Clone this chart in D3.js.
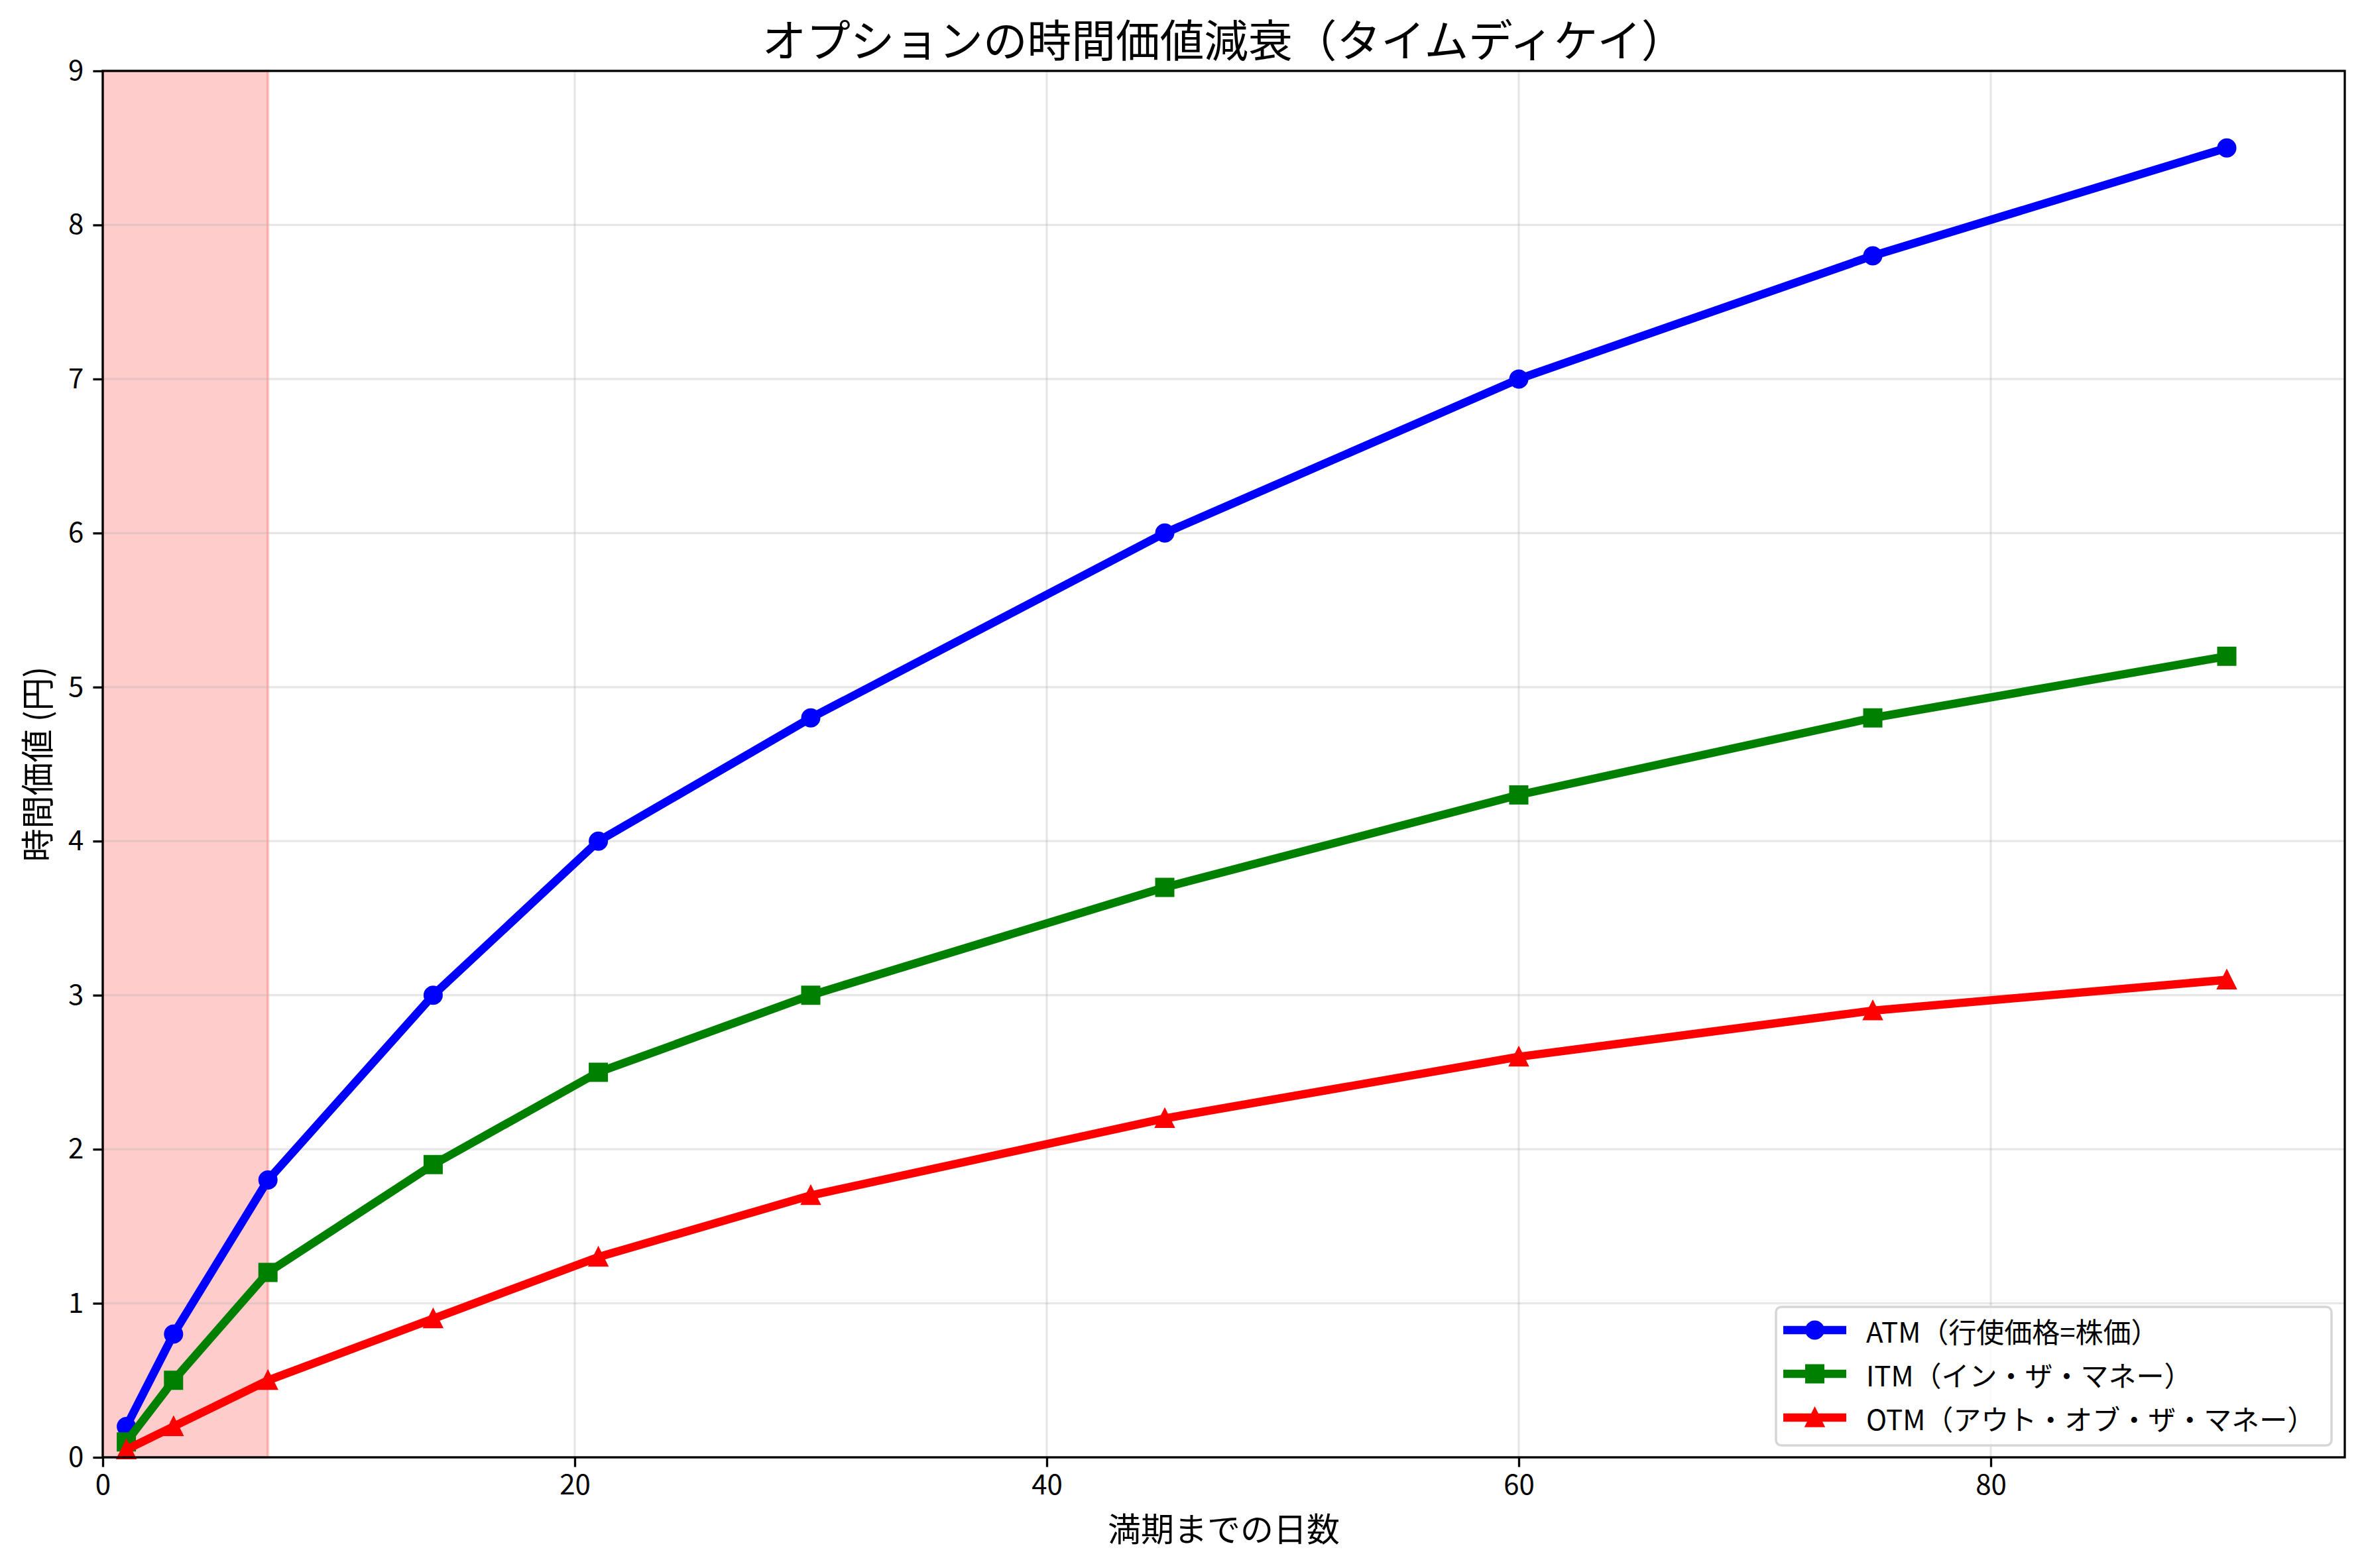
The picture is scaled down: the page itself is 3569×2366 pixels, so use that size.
<!DOCTYPE html>
<html>
<head>
<meta charset="utf-8">
<script src="https://cdn.jsdelivr.net/npm/d3@7"></script>
<style>
  body { margin: 0; background: #fff; }
  svg { display: block; font-family: "Noto Sans CJK JP", "Noto Sans", sans-serif; }
</style>
</head>
<body>
<svg id="chart"></svg>
<script>
// days to expiry
const days = [1, 3, 7, 14, 21, 30, 45, 60, 75, 90];
const atmValues = [0.2, 0.8, 1.8, 3.0, 4.0, 4.8, 6.0, 7.0, 7.8, 8.5];
const itmValues = [0.1, 0.5, 1.2, 1.9, 2.5, 3.0, 3.7, 4.3, 4.8, 5.2];
const otmValues = [0.05, 0.2, 0.5, 0.9, 1.3, 1.7, 2.2, 2.6, 2.9, 3.1];
const seriesNames = ["ATM（行使価格=株価）", "ITM（イン・ザ・マネー）", "OTM（アウト・オブ・ザ・マネー）"];
const xTicks = [0, 20, 40, 60, 80];
const yTicks = [0, 1, 2, 3, 4, 5, 6, 7, 8, 9];
const shadeRange = [0, 7];

const width = 3569;
const height = 2366;
const margin = { top: 107, right: 32, bottom: 167, left: 155 };
const innerW = width - margin.left - margin.right;
const innerH = height - margin.top - margin.bottom;

// marker paths, half size 12.5px (matplotlib markersize 6 at 300dpi)
const r = 12.5;
const markerPaths = {
  circle: d3.symbol().type(d3.symbolCircle).size(Math.PI * r * r)(),
  square: `M${-r},${-r}H${r}V${r}H${-r}Z`,
  triangle: `M0,${-r}L${r},${r}L${-r},${r}Z`
};

const series = [
  { name: seriesNames[0], values: atmValues, color: "#0000ff", marker: "circle" },
  { name: seriesNames[1], values: itmValues, color: "#008000", marker: "square" },
  { name: seriesNames[2], values: otmValues, color: "#ff0000", marker: "triangle" }
];

const svg = d3.select("#chart")
  .attr("width", width)
  .attr("height", height);

const g = svg.append("g")
  .attr("transform", `translate(${margin.left},${margin.top})`);

const xScale = d3.scaleLinear().domain([0, 95]).range([0, innerW]);
const yScale = d3.scaleLinear().domain([0, 9]).range([innerH, 0]);

// shaded last week
g.append("rect")
  .attr("x", xScale(shadeRange[0]))
  .attr("y", 0)
  .attr("width", xScale(shadeRange[1]) - xScale(shadeRange[0]))
  .attr("height", innerH)
  .attr("fill", "rgba(255,0,0,0.2)")
  .attr("stroke", "rgba(255,0,0,0.2)")
  .attr("stroke-width", 4);

// grid
g.append("g")
  .selectAll("line")
  .data(xTicks)
  .enter().append("line")
  .attr("x1", d => xScale(d)).attr("x2", d => xScale(d))
  .attr("y1", 0).attr("y2", innerH)
  .attr("stroke", "#b0b0b0").attr("stroke-opacity", 0.3).attr("stroke-width", 3.3);

g.append("g")
  .selectAll("line")
  .data(yTicks)
  .enter().append("line")
  .attr("x1", 0).attr("x2", innerW)
  .attr("y1", d => yScale(d)).attr("y2", d => yScale(d))
  .attr("stroke", "#b0b0b0").attr("stroke-opacity", 0.3).attr("stroke-width", 3.3);

// lines + markers
const line = d3.line()
  .x((d, i) => xScale(days[i]))
  .y(d => yScale(d));

series.forEach(s => {
  g.append("path")
    .datum(s.values)
    .attr("fill", "none")
    .attr("stroke", s.color)
    .attr("stroke-width", 12.5)
    .attr("stroke-linejoin", "round")
    .attr("stroke-linecap", "butt")
    .attr("d", line);

  g.append("g")
    .selectAll("path")
    .data(s.values)
    .enter().append("path")
    .attr("transform", (d, i) => `translate(${xScale(days[i])},${yScale(d)})`)
    .attr("d", markerPaths[s.marker])
    .attr("fill", s.color)
    .attr("stroke", s.color)
    .attr("stroke-width", 4);
});

// axes
const xAxis = g.append("g")
  .attr("transform", `translate(0,${innerH})`)
  .call(d3.axisBottom(xScale).tickValues(xTicks).tickSize(14.6).tickPadding(12).tickSizeOuter(0));

const yAxis = g.append("g")
  .call(d3.axisLeft(yScale).tickValues(yTicks).tickSize(14.6).tickPadding(14).tickSizeOuter(0));

[xAxis, yAxis].forEach(ax => {
  ax.select(".domain").remove();
  ax.selectAll(".tick line").attr("stroke", "#000").attr("stroke-width", 3.3);
  ax.selectAll(".tick text")
    .attr("fill", "#000")
    .style("font-size", "42px")
    .style("font-family", "'Noto Sans CJK JP', sans-serif");
});

// spines
g.append("rect")
  .attr("x", 0).attr("y", 0)
  .attr("width", innerW).attr("height", innerH)
  .attr("fill", "none")
  .attr("stroke", "#000")
  .attr("stroke-width", 3.3);

// title and labels
svg.append("text")
  .attr("x", margin.left + innerW / 2)
  .attr("y", 57)
  .attr("text-anchor", "middle")
  .attr("dominant-baseline", "central")
  .style("font-size", "66.7px")
  .text("オプションの時間価値減衰（タイムディケイ）");

svg.append("text")
  .attr("x", margin.left + innerW / 2)
  .attr("y", 2304)
  .attr("text-anchor", "middle")
  .attr("dominant-baseline", "central")
  .style("font-size", "50px")
  .text("満期までの日数");

svg.append("text")
  .attr("transform", `translate(53,${margin.top + innerH / 2}) rotate(-90)`)
  .attr("text-anchor", "middle")
  .attr("dominant-baseline", "central")
  .style("font-size", "50px")
  .text("時間価値 (円)");

// legend
const legendX = 2679 - margin.left;
const legendY = 1972 - margin.top;
const legend = g.append("g")
  .attr("transform", `translate(${legendX},${legendY})`);

legend.append("rect")
  .attr("width", 838)
  .attr("height", 209)
  .attr("rx", 8)
  .attr("fill", "rgba(255,255,255,0.8)")
  .attr("stroke", "#d6d6d6")
  .attr("stroke-width", 3.5);

series.forEach((s, i) => {
  const row = legend.append("g")
    .attr("transform", `translate(0,${35 + i * 66})`);
  row.append("line")
    .attr("x1", 11).attr("x2", 106)
    .attr("stroke", s.color)
    .attr("stroke-width", 12.5);
  row.append("path")
    .attr("transform", "translate(58.5,0)")
    .attr("d", markerPaths[s.marker])
    .attr("fill", s.color)
    .attr("stroke", s.color)
    .attr("stroke-width", 4);
  row.append("text")
    .attr("x", 136)
    .attr("dominant-baseline", "central")
    .style("font-size", "42px")
    .text(s.name);
});
</script>
</body>
</html>
